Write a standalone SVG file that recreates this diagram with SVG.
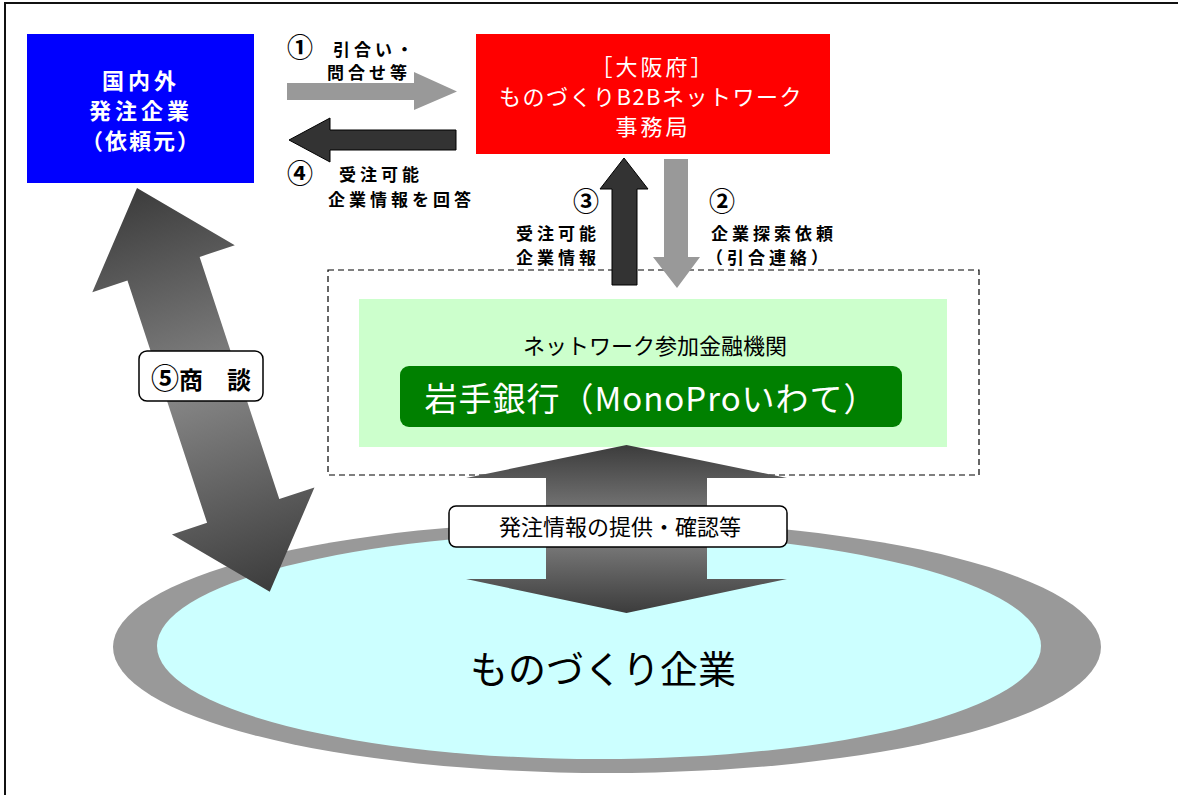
<svg xmlns="http://www.w3.org/2000/svg" width="1178" height="795" viewBox="0 0 1178 795">
<style>
text{font-family:"Noto Sans CJK JP","Noto Sans",sans-serif;}
.w{fill:#fff;}
.b{font-weight:bold;fill:#000;}
.lbl{font-size:17px;letter-spacing:4px;}
.num{font-size:26px;}
.gray{fill:#999999;}
.dark{fill:#333333;stroke:#000;stroke-width:1;}
.tag{fill:#fff;stroke:#000;stroke-width:1.5;}
</style>
<defs>
<linearGradient id="gv" gradientUnits="userSpaceOnUse" x1="0" y1="445" x2="0" y2="613">
<stop offset="0" stop-color="#3c3c3c"/><stop offset="0.5" stop-color="#858585"/><stop offset="1" stop-color="#3c3c3c"/>
</linearGradient>
<linearGradient id="gd" gradientUnits="userSpaceOnUse" x1="0" y1="0" x2="0" y2="425">
<stop offset="0" stop-color="#3c3c3c"/><stop offset="0.5" stop-color="#858585"/><stop offset="1" stop-color="#3c3c3c"/>
</linearGradient>
</defs>
<rect x="0" y="0" width="1178" height="795" fill="#fff"/>
<rect x="5" y="3" width="1200" height="900" fill="none" stroke="#111" stroke-width="2"/>

<g id="manufacturers">
<ellipse cx="607" cy="647" rx="494" ry="126" fill="#999999"/>
<ellipse cx="599" cy="646" rx="442" ry="113" fill="#CCFFFF"/>
<text x="603" y="683" font-size="38" text-anchor="middle" fill="#000">ものづくり企業</text>
</g>

<g id="bank-area">
<rect x="328" y="270" width="651" height="205" fill="none" stroke="#000" stroke-width="1.2" stroke-dasharray="6,4"/>
<rect x="359" y="299" width="588" height="148" fill="#CCFFCC"/>
<text x="655" y="354" font-size="22" text-anchor="middle" fill="#000">ネットワーク参加金融機関</text>
</g>
<g id="bank">
<rect x="400" y="366" width="502" height="61" rx="9" fill="#008000"/>
<text x="651" y="411" font-size="33" text-anchor="middle" class="w" letter-spacing="1">岩手銀行（MonoProいわて）</text>
</g>

<g id="client">
<rect x="27" y="34" width="227" height="149" fill="#0000FF"/>
<text x="141" y="89" font-size="22" font-weight="bold" text-anchor="middle" class="w" letter-spacing="4">国内外</text>
<text x="141" y="119" font-size="22" font-weight="bold" text-anchor="middle" class="w" letter-spacing="4">発注企業</text>
<text x="141" y="149" font-size="22" font-weight="bold" text-anchor="middle" class="w" letter-spacing="2">（依頼元）</text>
</g>

<g id="osaka">
<rect x="476" y="34" width="354" height="120" fill="#FF0000"/>
<text x="653" y="75" font-size="22" text-anchor="middle" class="w" letter-spacing="3">［大阪府］</text>
<text x="651" y="105" font-size="22" text-anchor="middle" class="w" letter-spacing="1.5">ものづくりB2Bネットワーク</text>
<text x="653" y="135" font-size="22" text-anchor="middle" class="w" letter-spacing="3">事務局</text>
</g>

<g id="connectors">
<polygon class="gray" points="287,83 414,83 414,72 457,91.5 414,110 414,100 287,100"/>
<polygon class="dark" points="456,130 330,130 330,118 289,140 330,162 330,150 456,150"/>
<polygon class="dark" points="612,285 612,189 600,189 624,158 648,189 637,189 637,285"/>
<polygon class="gray" points="664,159 688,159 688,257 700,257 677,288 653,257 664,257"/>
<polygon fill="url(#gv)" points="626.5,445 787,478 707,478 707,579 787,579 626.5,613 466,579 546,579 546,478 466,478"/>
<polygon fill="url(#gd)" transform="translate(137,188) rotate(-18.2)" points="0,0 75,85 38,85 38,340 75,340 0,425 -75,340 -38,340 -38,85 -75,85"/>
</g>

<g id="label-1">
<text x="287" y="57" class="b num">①</text>
<text x="333" y="56" class="b lbl">引合い・</text>
<text x="327" y="79" class="b lbl">問合せ等</text>
</g>
<g id="label-4">
<text x="287" y="183" class="b num">④</text>
<text x="339" y="181" class="b lbl">受注可能</text>
<text x="328" y="206" class="b lbl">企業情報を回答</text>
</g>
<g id="label-3">
<text x="599" y="211" class="b num" text-anchor="end">③</text>
<text x="600" y="240" class="b lbl" text-anchor="end">受注可能</text>
<text x="600" y="264" class="b lbl" text-anchor="end">企業情報</text>
</g>
<g id="label-2">
<text x="709" y="211" class="b num">②</text>
<text x="711" y="240" class="b lbl">企業探索依頼</text>
<text x="706" y="264" class="b lbl">（引合連絡）</text>
</g>

<g id="label-5">
<rect class="tag" x="139" y="351" width="124" height="50" rx="8"/>
<text x="201" y="389" font-size="24" text-anchor="middle" class="b"><tspan font-size="28">⑤</tspan>商　談</text>
</g>
<g id="label-info">
<rect class="tag" x="449" y="506" width="338" height="41" rx="7"/>
<text x="620" y="535" font-size="22" text-anchor="middle" fill="#000">発注情報の提供・確認等</text>
</g>
</svg>
